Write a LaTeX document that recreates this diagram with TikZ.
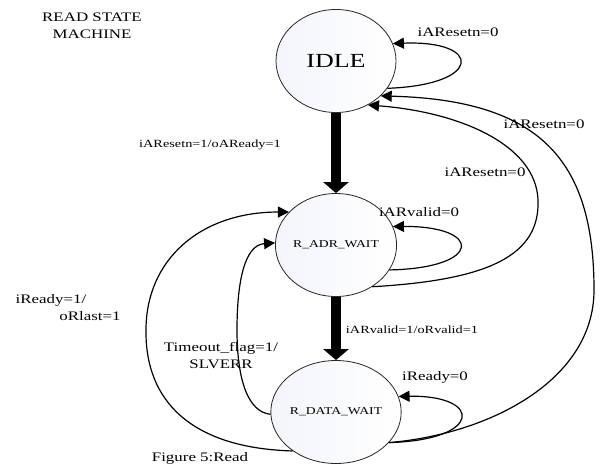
\documentclass[tikz,border=0pt]{standalone}
\usepackage{fontspec}
\setmainfont[FakeStretch=1.3]{Liberation Serif}
\usetikzlibrary{arrows.meta, shapes.geometric, positioning}
\definecolor{statefill}{RGB}{243,245,251}

\begin{document}
\begin{tikzpicture}[x=1pt, y=-1pt,
    state/.style={ellipse, draw=black!85, line width=0.8pt, minimum width=120pt,
      minimum height=103pt, inner sep=0pt, left color=statefill, right color=white,
      font=\fontsize{10.5}{12}\selectfont},
    trans/.style={line width=1.2pt, -{Triangle[length=11pt, width=11pt]}},
    mainarrow/.style={line width=10pt, -{Triangle[length=11pt, width=25pt]}},
    lbl/.style={font=\fontsize{13}{17}\selectfont, inner sep=0pt},
    lbllong/.style={font=\fontsize{11}{13}\selectfont, inner sep=0pt}]

    \useasboundingbox (0,0) rectangle (601,466);

    % --- States ---
    \node[state, font=\fontsize{20}{22}\selectfont] (idle) at (336,61) {IDLE};
    \node[state] (adrwait) at (336,245) {R\_ADR\_WAIT};
    \node[state] (datawait) at (336,412) {R\_DATA\_WAIT};

    % --- Main path down ---
    \draw[mainarrow] (idle.south) -- (adrwait.north);
    \draw[mainarrow] (adrwait.south) -- (datawait.north);

    % --- Self loops ---
    \draw[trans] (idle.-28) .. controls (483,85) and (483,40) .. (idle.17);
    \draw[trans] (adrwait.-25) .. controls (483,268) and (483,226) .. (adrwait.18);
    \draw[trans] (datawait.-30) .. controls (483,440) and (483,395) .. (datawait.14);

    % --- Back to IDLE on reset ---
    \draw[trans] (adrwait.-49) .. controls (490,280) and (540,255) .. (538,200)
      .. controls (536,145) and (460,112) .. (idle.-54);
    \draw[trans] (datawait.-30) .. controls (490,434) and (594,380) .. (594,290)
      .. controls (594,160) and (540,100) .. (idle.-38);

    % --- Back to R_ADR_WAIT ---
    \draw[trans] (datawait.-138) .. controls (190,448) and (145,400) .. (146,330)
      .. controls (146,260) and (200,212) .. (adrwait.145);
    \draw[trans] (datawait.182) .. controls (248,412) and (237,380) .. (237,330)
      .. controls (237,280) and (245,245) .. (adrwait.178);

    % --- Labels ---
    \node[lbl, align=center] (title) at (92,26) {READ STATE\\MACHINE};
    \node[lbl] (rst0a) at (458,32) {iAResetn=0};
    \node[lbllong] (rst1) at (210,145) {iAResetn=1/oAReady=1};
    \node[lbl] (rst0b) at (544,124) {iAResetn=0};
    \node[lbl] (rst0c) at (485,172) {iAResetn=0};
    \node[lbl] (valid0) at (419,212) {iARvalid=0};
    \node[lbllong] (valid1) at (412,330) {iARvalid=1/oRvalid=1};
    \node[lbl] (ready0) at (435,377) {iReady=0};
    \node[lbl] (ready1) at (51,300) {iReady=1/};
    \node[lbl] (rlast) at (90,316) {oRlast=1};
    \node[lbl, align=center] (timeout) at (221,356) {Timeout\_flag=1/\\SLVERR};
    \node[lbl] (caption) at (200,458) {Figure 5:Read};
\end{tikzpicture}
\end{document}
